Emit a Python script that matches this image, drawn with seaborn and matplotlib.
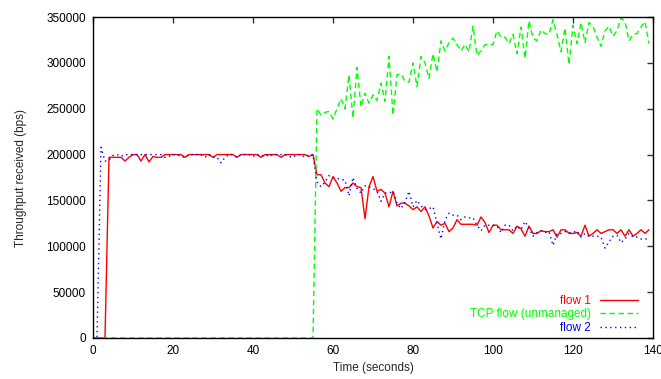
import numpy as np
import pandas as pd
import matplotlib
matplotlib.use("Agg")
import matplotlib.pyplot as plt
import seaborn as sns

time_s = list(range(0, 140))

flow1 = [0, 0, 0, 0, 197000, 197000, 197000, 197000, 193000, 197000,
         200000, 200000, 193000, 200000, 192000, 198000, 197000, 197000, 200000, 200000,
         200000, 200000, 200000, 197000, 200000, 200000, 200000, 200000, 200000, 200000,
         197000, 200000, 200000, 200000, 200000, 200000, 197000, 200000, 200000, 200000,
         200000, 200000, 197000, 200000, 200000, 200000, 200000, 197000, 200000, 200000,
         200000, 200000, 200000, 200000, 198000, 200000, 178000, 178000, 169000, 165000,
         176000, 169000, 160000, 164000, 164000, 169000, 165000, 164000, 130000, 165000,
         176000, 160000, 162000, 158000, 143000, 160000, 144000, 147000, 147000, 144000,
         140000, 143000, 138000, 143000, 133000, 120000, 127000, 123000, 125000, 116000,
         120000, 129000, 124000, 124000, 124000, 124000, 123000, 132000, 126000, 115000,
         123000, 123000, 118000, 118000, 118000, 114000, 122000, 119000, 111000, 122000,
         114000, 114000, 117000, 116000, 116000, 118000, 110000, 118000, 118000, 114000,
         114000, 115000, 111000, 123000, 111000, 114000, 118000, 114000, 116000, 118000,
         118000, 114000, 118000, 111000, 118000, 111000, 114000, 118000, 114000, 118000]

tcp_flow = [0] * 56 + [
    250000, 243000, 246000, 247000, 239000, 250000, 261000, 250000, 287000, 240000,
    295000, 252000, 267000, 256000, 265000, 259000, 278000, 258000, 307000, 243000,
    287000, 288000, 280000, 279000, 300000, 274000, 307000, 300000, 283000, 310000,
    290000, 324000, 313000, 322000, 327000, 320000, 313000, 320000, 312000, 340000,
    308000, 313000, 320000, 320000, 320000, 335000, 328000, 328000, 321000, 331000,
    310000, 339000, 305000, 346000, 327000, 324000, 336000, 332000, 331000, 347000,
    331000, 312000, 338000, 298000, 341000, 321000, 344000, 322000, 344000, 340000,
    328000, 318000, 335000, 340000, 329000, 335000, 349000, 345000, 324000, 331000,
    332000, 339000, 345000, 321000]

flow2 = [0, 0, 208000, 193000, 194000, 199000, 200000, 198000, 200000, 200000,
         200000, 200000, 200000, 200000, 200000, 200000, 200000, 200000, 197000, 198000,
         200000, 200000, 198000, 197000, 200000, 200000, 200000, 200000, 197000, 200000,
         197000, 197000, 191000, 197000, 200000, 200000, 197000, 200000, 200000, 200000,
         198000, 200000, 198000, 200000, 198000, 200000, 200000, 200000, 200000, 198000,
         197000, 200000, 200000, 197000, 200000, 200000, 170000, 165000, 170000, 177000,
         175000, 174000, 173000, 172000, 155000, 175000, 163000, 158000, 166000, 165000,
         163000, 160000, 149000, 158000, 158000, 160000, 147000, 141000, 148000, 160000,
         143000, 150000, 144000, 140000, 141000, 143000, 125000, 108000, 129000, 136000,
         134000, 134000, 129000, 132000, 131000, 131000, 123000, 117000, 123000, 123000,
         123000, 122000, 115000, 123000, 123000, 117000, 122000, 118000, 127000, 120000,
         111000, 115000, 117000, 115000, 116000, 101000, 114000, 114000, 116000, 115000,
         115000, 117000, 110000, 114000, 111000, 111000, 111000, 110000, 98000, 105000,
         111000, 112000, 104000, 108000, 114000, 110000, 110000, 108000, 108000, 108000]

series_names = ["flow 1", "TCP flow (unmanaged)", "flow 2"]
series_colors = ["#ff0000", "#00ff00", "#0000ff"]
series_dashes = [(None, None), (4, 2.5), (1, 2.5)]

x_ticks = [0, 20, 40, 60, 80, 100, 120, 140]
y_ticks = [0, 50000, 100000, 150000, 200000, 250000, 300000, 350000]

sns.set_style("white")
plt.rcParams["font.family"] = ["Liberation Sans", "DejaVu Sans"]

fig = plt.figure(figsize=(6.61, 3.79), dpi=100)
ax = fig.add_axes([93 / 661, 1 - 338 / 379, 560 / 661, 321 / 379])

for name, vals, col, dsh in zip(series_names, [flow1, tcp_flow, flow2],
                                series_colors, series_dashes):
    df = pd.DataFrame({"t": time_s, "v": vals})
    sns.lineplot(data=df, x="t", y="v", ax=ax, color=col, linewidth=1.0,
                 estimator=None, label=name, errorbar=None)
    line = ax.get_lines()[-1]
    if dsh[0] is not None:
        line.set_dashes(dsh)

ax.set_xlim(0, 140)
ax.set_ylim(0, 350000)
ax.set_xticks(x_ticks)
ax.set_yticks(y_ticks)
ax.set_xticklabels([str(v) for v in x_ticks])
ax.set_yticklabels([str(v) for v in y_ticks])
ax.tick_params(direction="in", length=4, width=1, color="#333333",
               top=True, right=True, labelsize=8.5, pad=5, labelcolor="black")
for sp in ax.spines.values():
    sp.set_color("black")
    sp.set_linewidth(1.0)
    sp.set_visible(True)

ax.set_xlabel("Time (seconds)", fontsize=8.5, labelpad=4)
ax.set_ylabel("Throughput received (bps)", fontsize=8.5, labelpad=14)

leg = ax.legend(loc="lower right", bbox_to_anchor=(0.982, -0.003), frameon=False,
                markerfirst=False, fontsize=8.5, handlelength=3.2,
                handletextpad=0.8, labelspacing=0.15, borderaxespad=0.0,
                labelcolor="linecolor")

fig.savefig("out.png", dpi=100)
